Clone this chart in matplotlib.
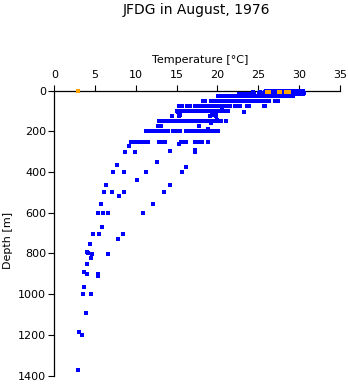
import matplotlib
matplotlib.use("Agg")
import matplotlib.pyplot as plt

# ---- data ----
t_0m = [26.0, 26.3, 26.6, 26.9, 27.2, 27.5, 27.8, 28.1, 28.4, 28.7, 29.0, 29.3, 29.6, 29.9, 30.2, 30.5]
t_12m = [25.1, 25.5, 26.4, 26.7, 27.0, 27.3, 27.6, 27.9, 28.2, 28.5, 28.8, 29.1, 29.4, 29.7, 30.0, 30.3, 30.6]
t_18m = [22.7, 23.0, 23.3, 23.7, 24.0, 24.2, 24.5, 26.0, 26.3, 26.6, 26.9, 27.2, 27.5, 27.8, 28.1, 28.4,
         28.7, 29.0, 29.3, 29.6, 29.9, 30.2, 30.5]
t_28m = [20.1, 20.4, 20.7, 21.0, 21.4, 21.7, 22.0, 22.3, 22.7, 23.0, 23.3, 23.6, 23.9, 24.2, 24.5, 24.8,
         25.1, 25.4, 25.7, 26.0, 26.3, 26.6, 26.9, 27.2, 27.5, 27.8, 28.1, 28.4, 28.7, 29.0, 29.3]
t_50m = [18.2, 18.5, 19.2, 19.5, 19.8, 20.1, 20.4, 20.9, 21.2, 21.5, 21.8, 22.1, 22.4, 22.7, 23.0, 23.3,
         23.6, 23.9, 24.2, 24.5, 24.8, 25.1, 25.4, 25.7, 26.0, 26.3, 27.1, 27.4]
t_75m = [15.3, 15.6, 16.3, 16.6, 17.2, 17.5, 18.0, 18.3, 18.6, 18.9, 19.2, 19.5, 19.8, 20.1, 20.4, 20.7,
         21.0, 21.3, 21.6, 22.2, 22.5, 22.8, 23.6, 23.9, 25.7, 25.9]
t_100m = [15.0, 15.3, 15.6, 15.9, 16.2, 16.5, 16.8, 17.1, 17.4, 17.7, 18.0, 18.3, 18.6, 18.9, 19.2, 19.5,
          19.8, 20.1, 20.4, 20.7, 21.0, 21.3]
t_150m = [12.8, 13.1, 13.4, 13.7, 14.0, 14.3, 14.6, 14.9, 15.2, 15.5, 15.8, 16.1, 16.4, 16.7, 17.0, 17.3,
          17.6, 17.9, 18.2, 18.5, 18.8, 19.1, 19.4, 19.7, 20.0, 20.3, 20.5, 21.1]
t_200m = [11.3, 11.6, 11.9, 12.2, 12.5, 12.8, 13.1, 13.4, 13.7, 14.0, 14.5, 14.8, 15.1, 15.4, 16.2, 16.5,
          17.0, 17.3, 17.6, 17.9, 18.2, 18.5, 18.8, 19.1, 19.4, 19.7, 20.1]
t_250m = [9.4, 9.7, 10.0, 10.3, 10.6, 10.9, 11.1, 11.5, 12.9, 13.1, 13.6, 15.5, 15.8, 16.1, 17.3, 17.6,
          17.9, 18.1, 18.9]
row_depths = [0, 12, 18, 28, 50, 75, 100, 150, 200, 250]
row_temps = [t_0m, t_12m, t_18m, t_28m, t_50m, t_75m, t_100m, t_150m, t_200m, t_250m]

other_temp = [24.4, 25.2, 25.9, 23.3, 20.6, 15.2, 15.4, 14.4, 15.3, 19.1, 19.8, 19.8, 19.4,
              19.9, 19.2, 12.75, 13.05, 17.7, 18.9, 15.35, 9.2, 8.67, 9.9, 14.2, 17.2, 17.3,
              12.6, 7.73, 16.15, 7.24, 8.55, 11.24, 15.7, 10.1, 6.38, 14.23, 6.05, 7.03, 8.55, 13.45,
              7.97, 5.73, 12.14, 5.40, 5.93, 6.63, 10.91, 5.85, 4.78, 5.52, 8.46, 7.77, 4.42,
              4.0, 4.1, 4.66, 6.62, 4.5, 4.01, 3.68, 4.05, 5.36, 5.3, 3.68, 3.56, 4.54, 3.93,
              3.07, 3.43, 2.94]
other_depth = [5, 5, 5, 103, 95, 105, 120, 125, 123, 125, 112, 125, 120,
               143, 161, 172, 172, 172, 190, 262, 274, 299, 299, 297, 299, 293,
               352, 367, 377, 402, 400, 402, 402, 441, 463, 466, 497, 497, 497, 497,
               520, 558, 558, 599, 599, 599, 600, 668, 702, 702, 702, 730, 752,
               793, 800, 801, 801, 821, 850, 890, 900, 900, 910, 967, 1001, 1001, 1095,
               1185, 1200, 1372]

orange_temp = [2.9, 26.1, 26.3, 27.5, 27.7, 28.4, 28.6, 28.8]
orange_depth = [0, 5, 5, 5, 5, 5, 5, 5]

x_ticks = [0, 5, 10, 15, 20, 25, 30, 35]
y_ticks = [0, 200, 400, 600, 800, 1000, 1200, 1400]

# ---- figure ----
W, H = 348, 384
fig = plt.figure(figsize=(W / 100, H / 100), dpi=100)
ax = fig.add_axes([54.3 / W, 1 - 375.5 / H, (339.7 - 54.3) / W, (375.5 - 90.7) / H])

blue = "#0000ff"
ms = 2.6
for d, ts in zip(row_depths, row_temps):
    ax.plot(ts, [d] * len(ts), linestyle="none", marker="s", markersize=ms,
            color=blue, markeredgewidth=0, clip_on=False, zorder=3, antialiased=False)
ax.plot(other_temp, other_depth, linestyle="none", marker="s", markersize=ms,
        color=blue, markeredgewidth=0, clip_on=False, zorder=3, antialiased=False)
ax.plot(orange_temp, orange_depth, linestyle="none", marker="s", markersize=ms,
        color="#ffa500", markeredgewidth=0, clip_on=False, zorder=4, antialiased=False)

ax.set_xlim(0, 35)
ax.set_ylim(1400, 0)
ax.set_xticks(x_ticks)
ax.set_yticks(y_ticks)
ax.xaxis.tick_top()
for s in ["right", "bottom"]:
    ax.spines[s].set_visible(False)
for s in ["top", "left"]:
    ax.spines[s].set_linewidth(0.9)
ax.tick_params(axis="both", direction="out", length=4.3, width=0.8, labelsize=8, colors="black")
ax.tick_params(axis="x", pad=3.5)
ax.tick_params(axis="y", pad=1.5)

fig.text(196 / W, 1 - 10 / H, "JFDG in August, 1976", ha="center", va="center", fontsize=10)
fig.text(200 / W, 1 - 60 / H, "Temperature [\u00b0C]", ha="center", va="center", fontsize=8)
fig.text(8 / W, 1 - 240 / H, "Depth [m]", ha="center", va="center", rotation=90, fontsize=8)

fig.savefig("out.png", dpi=100)
